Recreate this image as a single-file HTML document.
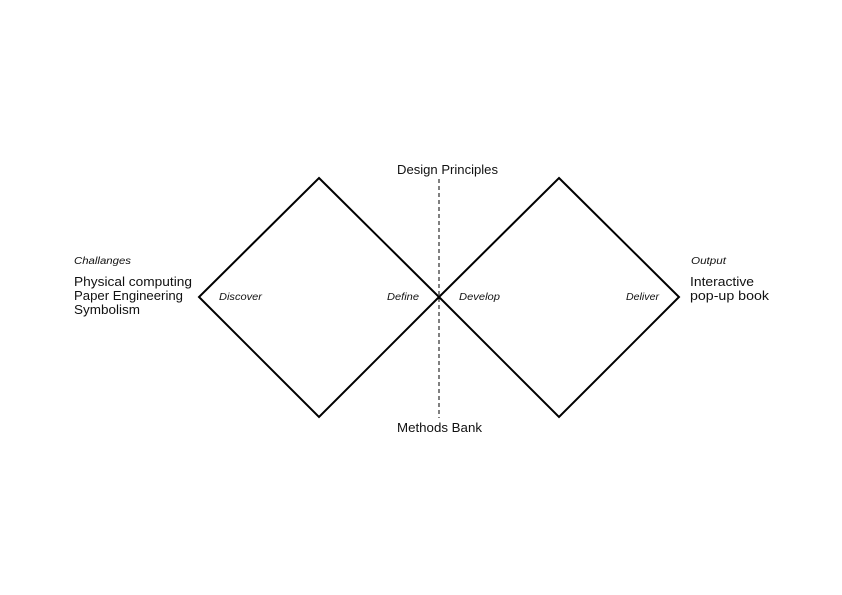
<!DOCTYPE html>
<html><head><meta charset="utf-8"><style>
html,body{margin:0;padding:0;background:#fff;}
svg{display:block;}
text{font-family:"Liberation Sans",sans-serif;fill:#111;}
.i{font-style:italic;font-size:10px;}
.m{font-size:12.5px;}
</style></head><body>
<svg width="842" height="595" viewBox="0 0 842 595" xmlns="http://www.w3.org/2000/svg">
<rect width="842" height="595" fill="#fff"/>
<g fill="none" stroke="#000" stroke-width="2" stroke-linejoin="miter">
<polygon points="319,178 439,297 319,417 199,297"/>
<polygon points="559,178 679,297 559,417 439,297"/>
</g>
<line x1="439" y1="179" x2="439" y2="418" stroke="#000" stroke-width="1" stroke-dasharray="4,3"/>
<text class="m" x="397" y="174" textLength="101" lengthAdjust="spacingAndGlyphs">Design Principles</text>
<text class="m" x="397" y="432" textLength="85" lengthAdjust="spacingAndGlyphs">Methods Bank</text>
<text class="i" x="74" y="264" textLength="57" lengthAdjust="spacingAndGlyphs">Challanges</text>
<text class="m" x="74" y="286" textLength="118" lengthAdjust="spacingAndGlyphs">Physical computing</text>
<text class="m" x="74" y="300" textLength="109" lengthAdjust="spacingAndGlyphs">Paper Engineering</text>
<text class="m" x="74" y="314" textLength="66" lengthAdjust="spacingAndGlyphs">Symbolism</text>
<text class="i" x="219" y="300" textLength="43" lengthAdjust="spacingAndGlyphs">Discover</text>
<text class="i" x="387" y="300" textLength="32" lengthAdjust="spacingAndGlyphs">Define</text>
<text class="i" x="459" y="300" textLength="41" lengthAdjust="spacingAndGlyphs">Develop</text>
<text class="i" x="626" y="300" textLength="33" lengthAdjust="spacingAndGlyphs">Deliver</text>
<text class="i" x="691" y="264" textLength="35" lengthAdjust="spacingAndGlyphs">Output</text>
<text class="m" x="690" y="286" textLength="64" lengthAdjust="spacingAndGlyphs">Interactive</text>
<text class="m" x="690" y="300" textLength="79" lengthAdjust="spacingAndGlyphs">pop-up book</text>
</svg>
</body></html>
